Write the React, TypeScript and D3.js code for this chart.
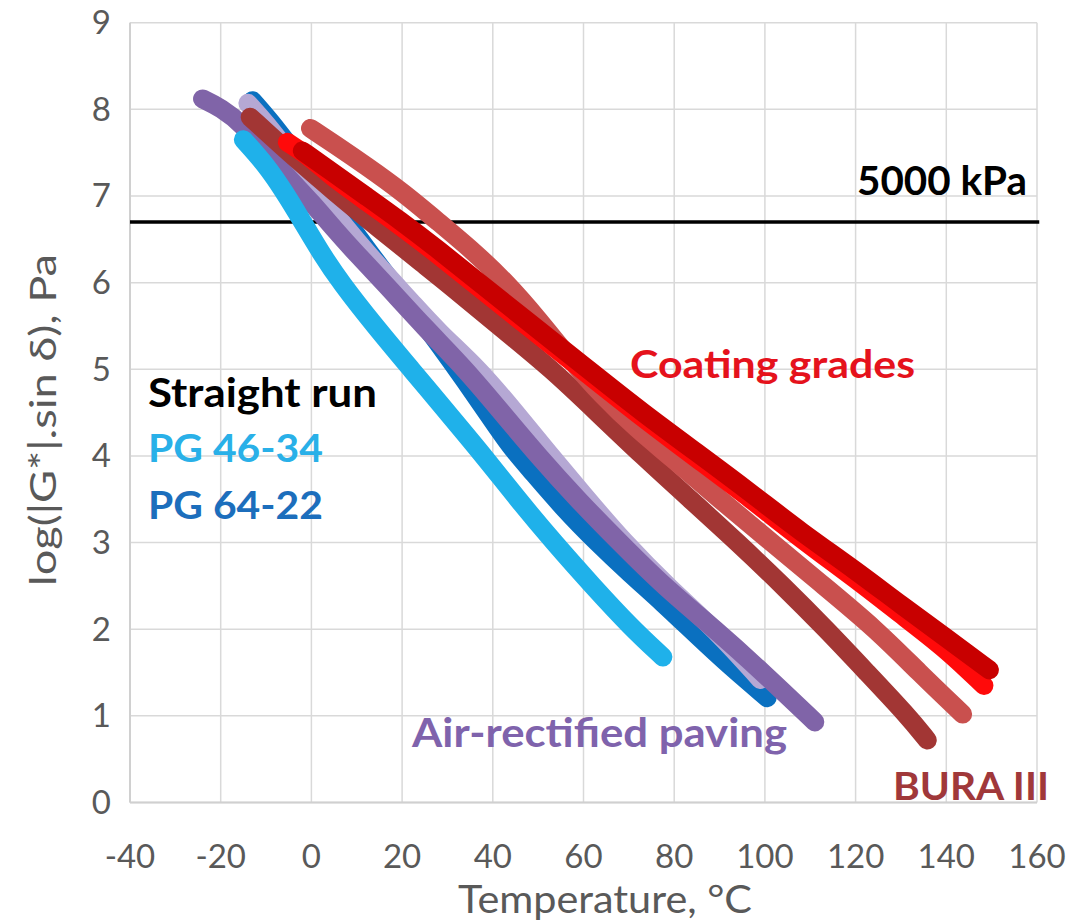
import React from "react";
import * as d3 from "d3";

const W = 1076;
const H = 923;

// axis ticks
const xTicks = [-40, -20, 0, 20, 40, 60, 80, 100, 120, 140, 160];
const yTicks = [0, 1, 2, 3, 4, 5, 6, 7, 8, 9];

// 5000 kPa limit line, log10(Pa)
const limitT = [-40, 160.5];
const limitG = 6.699;

// series: [temperature °C, log(|G*|.sin δ)]
const pg6422: [number, number][] = [
  [-13, 8.1], [-8, 7.8], [-3, 7.45], [0, 7.22], [5, 6.9], [10, 6.55], [16, 6.12],
  [22, 5.72], [28, 5.3], [34, 4.86], [39, 4.48], [44, 4.1], [48, 3.86], [55.5, 3.4],
  [63, 3.0], [70.3, 2.64], [77.6, 2.3], [85, 1.93], [92.4, 1.57], [100.5, 1.21],
];
const airLight: [number, number][] = [
  [-14, 8.07], [-10, 7.84], [-5, 7.5], [0, 7.15], [5, 6.8], [10, 6.48], [16, 6.12],
  [22, 5.78], [28, 5.43], [37, 5.0], [45, 4.5], [52, 4.05], [60, 3.55], [69, 3.0],
  [79, 2.47], [90, 1.95], [99, 1.42],
];
const airDark: [number, number][] = [
  [-24, 8.12], [-20, 8.02], [-15, 7.82], [-10, 7.5], [-5, 7.2], [0, 6.93], [5, 6.62],
  [10, 6.33], [16, 6.0], [25, 5.48], [34, 5.0], [42, 4.5], [50, 4.0], [59, 3.48],
  [68, 3.0], [78, 2.48], [89, 2.0], [100, 1.48], [111, 0.93],
];
const pg4634: [number, number][] = [
  [-15, 7.65], [-10, 7.36], [-6, 7.05], [-2.5, 6.75], [2, 6.35], [6.5, 6.0], [14, 5.5],
  [22, 5.0], [30, 4.5], [38, 4.0], [45.5, 3.5], [53.5, 3.0], [62, 2.5], [70.5, 2.02],
  [77.5, 1.68],
];
const bura: [number, number][] = [
  [-13.5, 7.91], [-5, 7.5], [5, 7.05], [15, 6.62], [25, 6.2], [31, 5.95], [42, 5.47],
  [53, 5.0], [63, 4.5], [73, 4.0], [83.5, 3.5], [94, 3.0], [104, 2.5], [113.5, 2.0],
  [122.5, 1.5], [131.5, 1.0], [135.8, 0.72],
];
const coatingCoral: [number, number][] = [
  [-0.2, 7.78], [5, 7.6], [12, 7.35], [20, 7.05], [28, 6.7], [36, 6.35], [43, 6.0],
  [50, 5.58], [57, 5.12], [64, 4.7], [72, 4.3], [79, 4.0], [90, 3.5], [101.5, 3.0],
  [113, 2.5], [124.5, 2.0], [134, 1.5], [143.6, 1.02],
];
const coatingBright: [number, number][] = [
  [-5.3, 7.62], [0, 7.44], [4, 7.24], [12, 6.94], [19.5, 6.66], [28, 6.32], [37, 5.94],
  [49, 5.44], [61, 4.94], [73, 4.44], [86, 3.93], [97, 3.5], [108, 3.04], [120, 2.58],
  [130, 2.17], [140, 1.77], [148.3, 1.35],
];
const coatingDark: [number, number][] = [
  [-2, 7.52], [4, 7.3], [12, 7.0], [19.5, 6.72], [28, 6.38], [37, 6.0], [49, 5.5],
  [61, 5.0], [73, 4.5], [86, 4.0], [97, 3.57], [108, 3.12], [120, 2.68], [130, 2.28],
  [140, 1.9], [149.5, 1.53],
];

const seriesOrder = [
  { data: pg6422, color: "#0A70C0" },
  { data: airLight, color: "#B5A8D4" },
  { data: airDark, color: "#8064A8" },
  { data: pg4634, color: "#1FB1EA" },
  { data: bura, color: "#A23634" },
  { data: coatingCoral, color: "#C9504E" },
  { data: coatingBright, color: "#FF0A0A" },
  { data: coatingDark, color: "#C80000" },
];

const FONT = "Lato, 'Open Sans', sans-serif";

export default function App() {
  const x = d3.scaleLinear().domain([-40, 160]).range([130, 1037]);
  const y = d3.scaleLinear().domain([0, 9]).range([802.5, 22.7]);
  const line = d3
    .line<[number, number]>()
    .x((d) => x(d[0]))
    .y((d) => y(d[1]))
    .curve(d3.curveBasis);

  return (
    <svg
      width={W}
      height={H}
      viewBox={`0 0 ${W} ${H}`}
      style={{ position: "absolute", left: 0, top: 0, background: "#fff" }}
    >
      <rect x={0} y={0} width={W} height={H} fill="#fff" />
      {/* grid */}
      {xTicks.map((t) => (
        <line key={"gx" + t} x1={x(t)} x2={x(t)} y1={y(9)} y2={y(0)} stroke="#D9D9D9" strokeWidth={1.5} />
      ))}
      {yTicks.map((t) => (
        <line key={"gy" + t} x1={x(-40)} x2={x(160)} y1={y(t)} y2={y(t)} stroke="#D9D9D9" strokeWidth={1.5} />
      ))}
      <line x1={x(-40)} x2={x(-40)} y1={y(9)} y2={y(0)} stroke="#D0D0D0" strokeWidth={2} />
      <line x1={x(-40)} x2={x(160)} y1={y(0)} y2={y(0)} stroke="#D0D0D0" strokeWidth={2} />

      {/* tick labels */}
      {xTicks.map((t) => (
        <text key={"tx" + t} x={x(t)} y={868} textAnchor="middle" fontFamily={FONT} fontSize={33} fill="#595959">
          {t}
        </text>
      ))}
      {yTicks.map((t) => (
        <text key={"ty" + t} x={111} y={y(t) + 11.5} textAnchor="end" fontFamily={FONT} fontSize={33} fill="#595959">
          {t}
        </text>
      ))}

      {/* axis titles */}
      <text x={605} y={913} textAnchor="middle" fontFamily={FONT} fontSize={38} fill="#595959" textLength={294} lengthAdjust="spacingAndGlyphs">
        Temperature, °C
      </text>
      <text
        transform={`translate(56,420) rotate(-90)`}
        textAnchor="middle"
        fontFamily={FONT}
        fontSize={37}
        fill="#595959"
        textLength={332}
        lengthAdjust="spacingAndGlyphs"
      >
        log(|G*|.sin δ), Pa
      </text>

      {/* limit line */}
      <line x1={x(limitT[0])} x2={x(limitT[1])} y1={y(limitG)} y2={y(limitG)} stroke="#000" strokeWidth={3.5} />

      {/* series */}
      {seriesOrder.map((s, i) => (
        <path
          key={"s" + i}
          d={line(s.data) || ""}
          fill="none"
          stroke={s.color}
          strokeWidth={19}
          strokeLinecap="round"
          strokeLinejoin="round"
        />
      ))}

      {/* annotations */}
      <text x={857} y={195} fontFamily={FONT} fontWeight={700} fontSize={41} fill="#000" textLength={170} lengthAdjust="spacingAndGlyphs">
        5000 kPa
      </text>
      <text x={148} y={407} fontFamily={FONT} fontWeight={700} fontSize={41} fill="#000" textLength={229} lengthAdjust="spacingAndGlyphs">
        Straight run
      </text>
      <text x={148} y={462} fontFamily={FONT} fontWeight={700} fontSize={38} fill="#29B0E8" textLength={175} lengthAdjust="spacingAndGlyphs">
        PG 46-34
      </text>
      <text x={148} y={519} fontFamily={FONT} fontWeight={700} fontSize={38} fill="#1C6EBC" textLength={175} lengthAdjust="spacingAndGlyphs">
        PG 64-22
      </text>
      <text x={630} y={378} fontFamily={FONT} fontWeight={700} fontSize={39} fill="#E5121C" textLength={285} lengthAdjust="spacingAndGlyphs">
        Coating grades
      </text>
      <text x={412} y={747} fontFamily={FONT} fontWeight={700} fontSize={40} fill="#7F63AC" textLength={375} lengthAdjust="spacingAndGlyphs">
        Air-rectified paving
      </text>
      <text x={893} y={800} fontFamily={FONT} fontWeight={700} fontSize={39} fill="#A0383A" textLength={156} lengthAdjust="spacingAndGlyphs">
        BURA III
      </text>
    </svg>
  );
}
